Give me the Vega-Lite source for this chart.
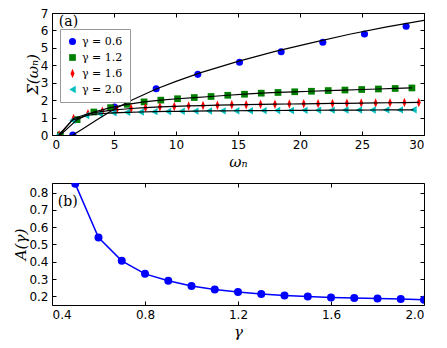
{
  "$schema": "https://vega.github.io/schema/vega-lite/v6.json",
  "padding": {"left": 13, "top": 6, "right": 5, "bottom": 5},
  "spacing": 10,
  "config": {
    "view": {"stroke": "#000", "strokeWidth": 1},
    "axis": {
      "grid": false, "domain": false, "tickColor": "#000", "tickSize": -4, "tickWidth": 1,
      "labelPadding": 8, "labelFont": "DejaVu Sans", "labelFontSize": 12, "labelColor": "#000",
      "titleFont": "DejaVu Serif", "titleFontStyle": "italic", "titleFontWeight": "normal",
      "titleFontSize": 15, "titleColor": "#000"
    },
    "axisY": {"titlePadding": 0}
  },
  "datasets": {
    "sigma": [
      {"g": "γ = 0.6", "w": 1.68, "s": 0}, {"g": "γ = 0.6", "w": 5.04, "s": 1.6}, {"g": "γ = 0.6", "w": 8.4, "s": 2.65},
      {"g": "γ = 0.6", "w": 11.76, "s": 3.48}, {"g": "γ = 0.6", "w": 15.12, "s": 4.17}, {"g": "γ = 0.6", "w": 18.48, "s": 4.78},
      {"g": "γ = 0.6", "w": 21.84, "s": 5.32}, {"g": "γ = 0.6", "w": 25.2, "s": 5.8}, {"g": "γ = 0.6", "w": 28.56, "s": 6.24},
      {"g": "γ = 1.2", "w": 0.675, "s": 0}, {"g": "γ = 1.2", "w": 2.025, "s": 0.88}, {"g": "γ = 1.2", "w": 3.375, "s": 1.32},
      {"g": "γ = 1.2", "w": 4.725, "s": 1.57}, {"g": "γ = 1.2", "w": 6.075, "s": 1.76}, {"g": "γ = 1.2", "w": 7.425, "s": 1.9},
      {"g": "γ = 1.2", "w": 8.775, "s": 2.0}, {"g": "γ = 1.2", "w": 10.125, "s": 2.08}, {"g": "γ = 1.2", "w": 11.475, "s": 2.15},
      {"g": "γ = 1.2", "w": 12.825, "s": 2.21}, {"g": "γ = 1.2", "w": 14.175, "s": 2.28}, {"g": "γ = 1.2", "w": 15.525, "s": 2.34},
      {"g": "γ = 1.2", "w": 16.875, "s": 2.4}, {"g": "γ = 1.2", "w": 18.225, "s": 2.44}, {"g": "γ = 1.2", "w": 19.575, "s": 2.48},
      {"g": "γ = 1.2", "w": 20.925, "s": 2.51}, {"g": "γ = 1.2", "w": 22.275, "s": 2.55}, {"g": "γ = 1.2", "w": 23.625, "s": 2.58},
      {"g": "γ = 1.2", "w": 24.975, "s": 2.61}, {"g": "γ = 1.2", "w": 26.325, "s": 2.64}, {"g": "γ = 1.2", "w": 27.675, "s": 2.67},
      {"g": "γ = 1.2", "w": 29.025, "s": 2.7},
      {"g": "γ = 1.6", "w": 0.58, "s": 0}, {"g": "γ = 1.6", "w": 1.74, "s": 0.95}, {"g": "γ = 1.6", "w": 2.9, "s": 1.22},
      {"g": "γ = 1.6", "w": 4.06, "s": 1.36}, {"g": "γ = 1.6", "w": 5.22, "s": 1.45}, {"g": "γ = 1.6", "w": 6.38, "s": 1.52},
      {"g": "γ = 1.6", "w": 7.54, "s": 1.57}, {"g": "γ = 1.6", "w": 8.7, "s": 1.61}, {"g": "γ = 1.6", "w": 9.86, "s": 1.64},
      {"g": "γ = 1.6", "w": 11.02, "s": 1.67}, {"g": "γ = 1.6", "w": 12.18, "s": 1.69}, {"g": "γ = 1.6", "w": 13.34, "s": 1.71},
      {"g": "γ = 1.6", "w": 14.5, "s": 1.73}, {"g": "γ = 1.6", "w": 15.66, "s": 1.74}, {"g": "γ = 1.6", "w": 16.82, "s": 1.76},
      {"g": "γ = 1.6", "w": 17.98, "s": 1.77}, {"g": "γ = 1.6", "w": 19.14, "s": 1.78}, {"g": "γ = 1.6", "w": 20.3, "s": 1.79},
      {"g": "γ = 1.6", "w": 21.46, "s": 1.8}, {"g": "γ = 1.6", "w": 22.62, "s": 1.81}, {"g": "γ = 1.6", "w": 23.78, "s": 1.82},
      {"g": "γ = 1.6", "w": 24.94, "s": 1.83}, {"g": "γ = 1.6", "w": 26.1, "s": 1.84}, {"g": "γ = 1.6", "w": 27.26, "s": 1.85},
      {"g": "γ = 1.6", "w": 28.42, "s": 1.86}, {"g": "γ = 1.6", "w": 29.58, "s": 1.87},
      {"g": "γ = 2.0", "w": 0.55, "s": 0}, {"g": "γ = 2.0", "w": 1.65, "s": 0.85}, {"g": "γ = 2.0", "w": 2.75, "s": 1.12},
      {"g": "γ = 2.0", "w": 3.85, "s": 1.22}, {"g": "γ = 2.0", "w": 4.95, "s": 1.27}, {"g": "γ = 2.0", "w": 6.05, "s": 1.3},
      {"g": "γ = 2.0", "w": 7.15, "s": 1.32}, {"g": "γ = 2.0", "w": 8.25, "s": 1.34}, {"g": "γ = 2.0", "w": 9.35, "s": 1.35},
      {"g": "γ = 2.0", "w": 10.45, "s": 1.36}, {"g": "γ = 2.0", "w": 11.55, "s": 1.37}, {"g": "γ = 2.0", "w": 12.65, "s": 1.38},
      {"g": "γ = 2.0", "w": 13.75, "s": 1.385}, {"g": "γ = 2.0", "w": 14.85, "s": 1.39}, {"g": "γ = 2.0", "w": 15.95, "s": 1.395},
      {"g": "γ = 2.0", "w": 17.05, "s": 1.4}, {"g": "γ = 2.0", "w": 18.15, "s": 1.405}, {"g": "γ = 2.0", "w": 19.25, "s": 1.41},
      {"g": "γ = 2.0", "w": 20.35, "s": 1.415}, {"g": "γ = 2.0", "w": 21.45, "s": 1.42}, {"g": "γ = 2.0", "w": 22.55, "s": 1.425},
      {"g": "γ = 2.0", "w": 23.65, "s": 1.43}, {"g": "γ = 2.0", "w": 24.75, "s": 1.43}, {"g": "γ = 2.0", "w": 25.85, "s": 1.435},
      {"g": "γ = 2.0", "w": 26.95, "s": 1.44}, {"g": "γ = 2.0", "w": 28.05, "s": 1.44}, {"g": "γ = 2.0", "w": 29.15, "s": 1.445}
    ],
    "fit": [
      {"w": 1.68, "s": 0}, {"w": 2.5, "s": 0.36}, {"w": 3.5, "s": 0.82}, {"w": 5, "s": 1.48}, {"w": 6.5, "s": 2.02},
      {"w": 8.4, "s": 2.64}, {"w": 10, "s": 3.08}, {"w": 12, "s": 3.58}, {"w": 15, "s": 4.22}, {"w": 18, "s": 4.8},
      {"w": 21, "s": 5.3}, {"w": 24, "s": 5.78}, {"w": 27, "s": 6.2}, {"w": 30, "s": 6.58}
    ],
    "amp": [
      {"gamma": 0.5, "A": 0.85}, {"gamma": 0.6, "A": 0.54}, {"gamma": 0.7, "A": 0.405}, {"gamma": 0.8, "A": 0.33},
      {"gamma": 0.9, "A": 0.29}, {"gamma": 1.0, "A": 0.26}, {"gamma": 1.1, "A": 0.24}, {"gamma": 1.2, "A": 0.225},
      {"gamma": 1.3, "A": 0.213}, {"gamma": 1.4, "A": 0.205}, {"gamma": 1.5, "A": 0.199}, {"gamma": 1.6, "A": 0.194},
      {"gamma": 1.7, "A": 0.19}, {"gamma": 1.8, "A": 0.187}, {"gamma": 1.9, "A": 0.184}, {"gamma": 2.0, "A": 0.181}
    ]
  },
  "vconcat": [
    {
      "width": 372, "height": 122,
      "resolve": {"axis": {"x": "independent", "y": "independent"}},
      "layer": [
        {
          "data": {"name": "sigma"},
          "mark": {"type": "point", "filled": true, "opacity": 1, "clip": true},
          "encoding": {
            "x": {"field": "w", "type": "quantitative", "scale": {"domain": [0, 30], "nice": false},
                  "axis": {"title": "ωₙ", "values": [0, 5, 10, 15, 20, 25, 30]}},
            "y": {"field": "s", "type": "quantitative", "scale": {"domain": [0, 7], "nice": false},
                  "axis": {"title": "Σ(ωₙ)", "values": [0, 1, 2, 3, 4, 5, 6, 7]}},
            "color": {"field": "g", "type": "nominal",
                      "scale": {"domain": ["γ = 0.6", "γ = 1.2", "γ = 1.6", "γ = 2.0"], "range": ["#0000ff", "#008000", "#ff0000", "#00bfbf"]},
                      "legend": {"title": null, "orient": "none", "legendX": 8, "legendY": 16, "strokeColor": "#999", "fillColor": "#fff",
                                 "padding": 7, "labelFont": "DejaVu Serif", "labelFontSize": 11, "labelColor": "#000", "rowPadding": 4}},
            "shape": {"field": "g", "type": "nominal",
                      "scale": {"domain": ["γ = 0.6", "γ = 1.2", "γ = 1.6", "γ = 2.0"], "range": ["circle", "square", "M0,-1L0.42,0L0,1L-0.42,0Z", "triangle-left"]},
                      "legend": {"title": null, "orient": "none", "legendX": 8, "legendY": 16, "strokeColor": "#999", "fillColor": "#fff",
                                 "padding": 7, "labelFont": "DejaVu Serif", "labelFontSize": 11, "labelColor": "#000", "rowPadding": 4}},
            "size": {"field": "g", "type": "ordinal",
                      "scale": {"type": "ordinal", "domain": ["γ = 0.6", "γ = 1.2", "γ = 1.6", "γ = 2.0"], "range": [50, 45, 90, 55]},
                      "legend": {"title": null, "orient": "none", "legendX": 8, "legendY": 16, "strokeColor": "#999", "fillColor": "#fff",
                                 "padding": 7, "labelFont": "DejaVu Serif", "labelFontSize": 11, "labelColor": "#000", "rowPadding": 4}}
          }
        },
        {
          "data": {"name": "sigma"},
          "transform": [{"filter": "datum.g != 'γ = 0.6'"}],
          "mark": {"type": "line", "color": "#000", "strokeWidth": 1.2, "clip": true},
          "encoding": {
            "x": {"field": "w", "type": "quantitative", "axis": {"orient": "top", "labels": false, "title": null, "values": [0, 5, 10, 15, 20, 25, 30]}},
            "y": {"field": "s", "type": "quantitative", "axis": {"orient": "right", "labels": false, "title": null, "values": [0, 1, 2, 3, 4, 5, 6, 7]}},
            "detail": {"field": "g", "type": "nominal"}
          }
        },
        {
          "data": {"name": "fit"},
          "mark": {"type": "line", "color": "#000", "strokeWidth": 1.2, "clip": true},
          "encoding": {
            "x": {"field": "w", "type": "quantitative", "axis": null},
            "y": {"field": "s", "type": "quantitative", "axis": null}
          }
        },
        {
          "data": {"values": [{"label": "(a)"}]},
          "mark": {"type": "text", "align": "left", "baseline": "middle", "font": "DejaVu Serif", "fontSize": 14, "color": "#000"},
          "encoding": {
            "x": {"datum": 0.55, "type": "quantitative", "axis": null},
            "y": {"datum": 6.5, "type": "quantitative", "axis": null},
            "text": {"field": "label"}
          }
        }
      ]
    },
    {
      "width": 372, "height": 122,
      "data": {"name": "amp"},
      "resolve": {"axis": {"x": "independent", "y": "independent"}},
      "layer": [
        {
          "mark": {"type": "line", "color": "#0000ff", "strokeWidth": 1.5, "clip": true,
                   "point": {"filled": true, "size": 64, "color": "#0000ff", "opacity": 1}},
          "encoding": {
            "x": {"field": "gamma", "type": "quantitative", "scale": {"domain": [0.4, 2.0], "nice": false},
                  "axis": {"title": "γ", "values": [0.4, 0.8, 1.2, 1.6, 2.0], "format": ".1f"}},
            "y": {"field": "A", "type": "quantitative", "scale": {"domain": [0.15, 0.855], "nice": false, "zero": false},
                  "axis": {"title": "A(γ)", "values": [0.2, 0.3, 0.4, 0.5, 0.6, 0.7, 0.8], "format": ".1f"}}
          }
        },
        {
          "mark": {"type": "point", "opacity": 0},
          "encoding": {
            "x": {"field": "gamma", "type": "quantitative", "axis": {"orient": "top", "labels": false, "title": null, "values": [0.4, 0.8, 1.2, 1.6, 2.0]}},
            "y": {"field": "A", "type": "quantitative", "axis": {"orient": "right", "labels": false, "title": null, "values": [0.2, 0.3, 0.4, 0.5, 0.6, 0.7, 0.8]}}
          }
        },
        {
          "data": {"values": [{"label": "(b)"}]},
          "mark": {"type": "text", "align": "left", "baseline": "middle", "font": "DejaVu Serif", "fontSize": 14, "color": "#000"},
          "encoding": {
            "x": {"datum": 0.425, "type": "quantitative", "axis": null},
            "y": {"datum": 0.745, "type": "quantitative", "axis": null},
            "text": {"field": "label"}
          }
        }
      ]
    }
  ]
}
